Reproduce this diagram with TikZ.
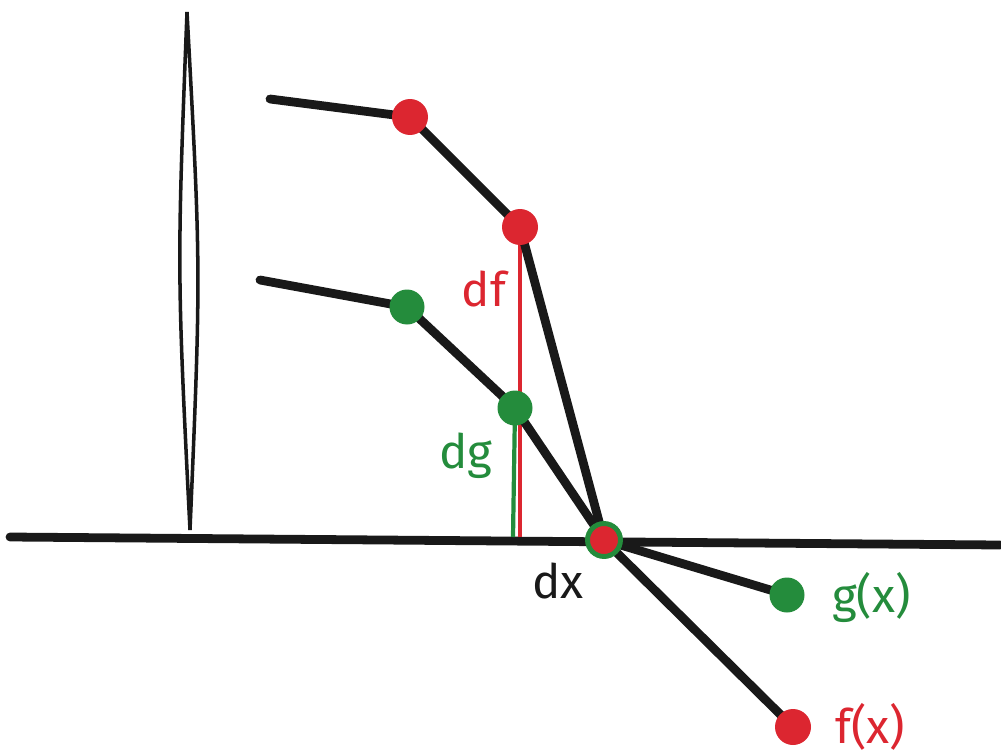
\documentclass[tikz,border=0pt]{standalone}
\usepackage{fontspec}
\setmainfont{Fira Sans}
\usetikzlibrary{backgrounds}
\definecolor{fred}{RGB}{220,38,48}
\definecolor{ggreen}{RGB}{36,140,60}
\tikzstyle{reddot} = [circle, fill=fred, inner sep=0pt, minimum size=0.72cm]
\tikzstyle{greendot} = [circle, fill=ggreen, inner sep=0pt, minimum size=0.70cm]
\tikzstyle{bothdot} = [circle, fill=fred, draw=ggreen, line width=2.8pt, inner sep=0pt, minimum size=0.66cm]
\tikzstyle{curve} = [line width=5pt, line cap=round, line join=round, black!90]
\tikzstyle{label} = [font=\fontsize{27}{30}\selectfont, inner sep=1pt]

\begin{document}
\begin{tikzpicture}[x=0.02cm, y=-0.02cm]
      \useasboundingbox (0,0) rectangle (1001,754);
      % Nodes
      \coordinate (axl) at (10,537);
      \coordinate (axr) at (1000,545);
      \coordinate (ybot) at (190,530);
      \coordinate (ytop) at (187,12);
      \coordinate (fstart) at (270,99);
      \coordinate (gstart) at (260,280);
      \node (f1) [reddot] at (410,117) {};
      \node (f2) [reddot] at (520,227) {};
      \node (g1) [greendot] at (407,307) {};
      \node (g2) [greendot] at (515,408) {};
      \node (o) [bothdot] at (604,540) {};
      \node (gx) [greendot] at (787,595) {};
      \node (fx) [reddot] at (793,727) {};
      \coordinate (dfb) at (520,537);
      \coordinate (dgb) at (513,537);
      \node (df) [label, text=fred] at (484,289) {df};
      \node (dg) [label, text=ggreen] at (466,456) {dg};
      \node (dx) [label, text=black!90] at (558,581) {dx};
      \node (gxl) [label, text=ggreen, anchor=west] at (830,598) {g(x)};
      \node (fxl) [label, text=fred, anchor=west] at (833,727) {f(x)};
      % Lines
      \begin{pgfonlayer}{background}
      \draw [line width=5pt, black!90, line cap=round] (axl) -- (axr);
      \draw [line width=2pt, black!90] (ytop) .. controls (177,270) .. (ybot)
            .. controls (201,270) .. (ytop);
      \draw [line width=2.4pt, fred] (f2.center) -- (dfb);
      \draw [line width=2.4pt, ggreen] (g2.center) -- (dgb);
      \draw [curve] (fstart) -- (f1.center) -- (f2.center) -- (o.center) -- (fx.center);
      \draw [curve] (gstart) -- (g1.center) -- (g2.center) -- (o.center) -- (gx.center);
      \end{pgfonlayer}
    \end{tikzpicture}
\end{document}
